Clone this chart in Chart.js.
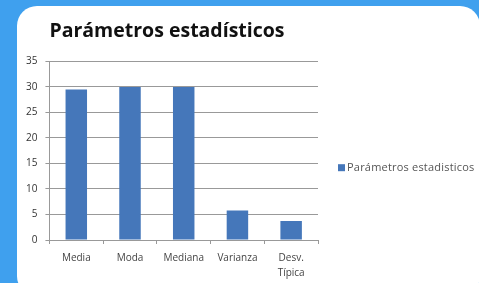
<!DOCTYPE html>
<html>
<head>
<meta charset="utf-8">
<script src="https://cdn.jsdelivr.net/npm/chart.js@4/dist/chart.umd.min.js"></script>
<style>
  html, body { margin: 0; padding: 0; }
  body { width: 479px; height: 283px; background: #3FA0EE; overflow: hidden; position: relative; }
  .card { position: absolute; left: 17px; top: 6px; width: 463px; height: 290px; background: #fff; border-radius: 20px; }
  #wrap { position: absolute; left: 0; top: 0; width: 479px; height: 283px; }
</style>
</head>
<body>
<div class="card"></div>
<div id="wrap"><canvas id="c"></canvas></div>
<script>
// chart data
var categories = ['Media', 'Moda', 'Mediana', 'Varianza', ['Desv.', 'Típica']];
var values = [29.5, 30, 30, 5.8, 3.7];
var seriesName = 'Parámetros estadisticos';
var yTicks = [0, 5, 10, 15, 20, 25, 30, 35];

// the built-in legend is capped at a quarter of the width, so draw the single entry here
var sideLegend = {
  id: 'sideLegend',
  afterDraw: function (chart) {
    var c = chart.ctx, area = chart.chartArea;
    var ds = chart.data.datasets[0];
    var x = area.right + 20;
    var y = (area.top + area.bottom) / 2 + 17;
    c.save();
    c.fillStyle = ds.backgroundColor;
    c.fillRect(x, y - 3.5, 7, 7);
    c.font = '11px "Open Sans"';
    c.letterSpacing = '0.2px';
    c.fillStyle = '#555';
    c.textBaseline = 'middle';
    c.fillText(ds.label, x + 9, y);
    c.restore();
  }
};

var ctx = document.getElementById('c');
var myChart = new Chart(ctx, {
  type: 'bar',
  data: {
    labels: categories,
    datasets: [{
      label: seriesName,
      data: values,
      backgroundColor: '#4577BA',
      borderWidth: 0,
      categoryPercentage: 0.4,
      barPercentage: 1
    }]
  },
  plugins: [sideLegend],
  options: {
    responsive: true,
    maintainAspectRatio: false,
    animation: false,
    layout: { padding: { left: 18, right: 161, top: 6, bottom: -5 } },
    plugins: {
      title: {
        display: true,
        fullSize: false,
        align: 'start',
        text: 'Parámetros estadísticos',
        font: { family: 'Open Sans', size: 19.5, weight: 'bold' },
        color: '#111',
        padding: { top: 14, bottom: 18 }
      },
      legend: { display: false },
      tooltip: { enabled: false }
    },
    scales: {
      x: {
        grid: { offset: true, drawOnChartArea: false, color: '#999', tickLength: 4 },
        border: { color: '#999' },
        ticks: { font: { family: 'Open Sans', size: 10, lineHeight: 1.5 }, color: '#444', padding: 7, maxRotation: 0 }
      },
      y: {
        min: 0,
        max: 35,
        afterBuildTicks: function (axis) { axis.ticks = yTicks.map(function (v) { return { value: v }; }); },
        ticks: { font: { family: 'Open Sans', size: 10 }, color: '#333', padding: 8 },
        grid: { color: '#999', tickLength: 4 },
        border: { color: '#999' }
      }
    }
  }
});
</script>
</body>
</html>
